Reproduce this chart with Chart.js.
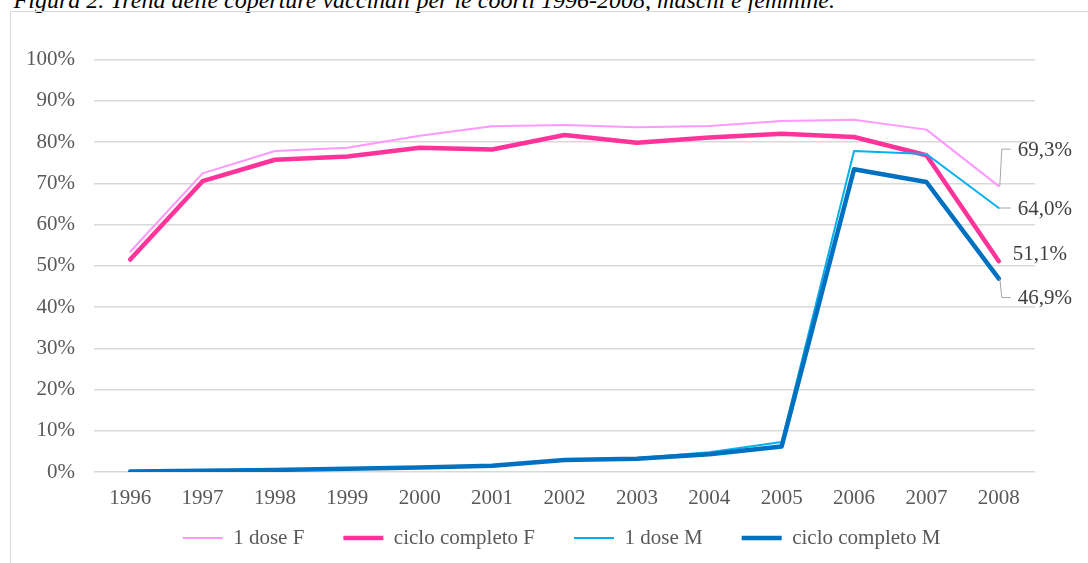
<!DOCTYPE html>
<html>
<head>
<meta charset="utf-8">
<script src="https://cdn.jsdelivr.net/npm/chart.js@4/dist/chart.umd.min.js"></script>
<style>
  html, body { margin: 0; padding: 0; background: #ffffff; overflow: hidden; }
  #wrap { position: relative; width: 1088px; height: 563px; overflow: hidden; }
  #title { position: absolute; right: 253px; top: -12px; white-space: nowrap;
           font-family: "Liberation Serif", serif; font-style: italic; font-size: 24px;
           line-height: 24px; color: #000; }
  #frame { position: absolute; left: 10px; top: 11px; width: 1200px; height: 700px;
           border: 1px solid #d9d9d9; box-sizing: border-box; }
  #c { position: absolute; left: 0; top: 0; }
</style>
</head>
<body>
<div id="wrap">
  <div id="title">Figura 2. Trend delle coperture vaccinali per le coorti 1996-2008, maschi e femmine.</div>
  <div id="frame"></div>
  <canvas id="c" width="1088" height="563"></canvas>
</div>
<script>
const categories = ['1996','1997','1998','1999','2000','2001','2002','2003','2004','2005','2006','2007','2008'];
const seriesNames = ['1 dose F', 'ciclo completo F', '1 dose M', 'ciclo completo M'];
const doseF   = [53.4, 72.4, 77.8, 78.6, 81.5, 83.8, 84.1, 83.6, 83.9, 85.1, 85.4, 83.0, 69.3];
const cicloF  = [51.5, 70.5, 75.7, 76.5, 78.6, 78.2, 81.7, 79.8, 81.1, 82.0, 81.2, 76.8, 51.1];
const doseM   = [0.2, 0.4, 0.5, 0.8, 1.2, 1.6, 3.0, 3.4, 4.8, 7.3, 77.8, 77.1, 64.0];
const cicloM  = [0.1, 0.3, 0.5, 0.8, 1.1, 1.5, 2.9, 3.2, 4.3, 6.2, 73.4, 70.3, 46.9];
const yTicks  = [0, 10, 20, 30, 40, 50, 60, 70, 80, 90, 100];
const endLabels = ['69,3%', '51,1%', '64,0%', '46,9%'];

const FONT = '"Liberation Serif", "Times New Roman", serif';
const TEXT = '#595959';

const endLabelPlugin = {
  id: 'endLabels',
  afterDatasetsDraw(chart) {
    const ctx = chart.ctx;
    const cfg = [
      {ds: 0, dx: 19, dy: -37, leader: 'up'},
      {ds: 1, dx: 14, dy: -8, leader: 'none'},
      {ds: 2, dx: 19, dy: 0, leader: 'flat'},
      {ds: 3, dx: 19, dy: 19, leader: 'down'}
    ];
    ctx.save();
    cfg.forEach((c, i) => {
      const meta = chart.getDatasetMeta(c.ds);
      const pt = meta.data[meta.data.length - 1];
      const x = pt.x, y = pt.y;
      const ty = y + c.dy;
      ctx.strokeStyle = '#a6a6a6';
      ctx.lineWidth = 1;
      ctx.beginPath();
      if (c.leader === 'up' || c.leader === 'down') {
        ctx.moveTo(x + 1, y);
        ctx.lineTo(x + 3, ty);
        ctx.lineTo(x + 12, ty);
        ctx.stroke();
      } else if (c.leader === 'flat') {
        ctx.moveTo(x + 1, y);
        ctx.lineTo(x + 12, ty);
        ctx.stroke();
      }
      ctx.fillStyle = '#404040';
      ctx.font = '21px ' + FONT;
      ctx.textAlign = 'left';
      ctx.textBaseline = 'middle';
      ctx.fillText(endLabels[i], x + c.dx, ty + 1);
    });
    ctx.restore();
  }
};

// place the legend row: vertical centre near the bottom, shifted to the right
const legendPlace = {
  id: 'legendPlace',
  afterLayout(chart) {
    const lg = chart.legend;
    if (!lg) return;
    lg.top = 488.5; lg.bottom = 563;
    lg.left += 44; lg.right += 44;
  }
};

new Chart(document.getElementById('c'), {
  type: 'line',
  data: {
    labels: categories,
    datasets: [
      {label: seriesNames[0], data: doseF,  borderColor: '#ff99ff', backgroundColor: '#ff99ff', borderWidth: 2,   order: 4},
      {label: seriesNames[1], data: cicloF, borderColor: '#ff3399', backgroundColor: '#ff3399', borderWidth: 4.5, order: 3},
      {label: seriesNames[2], data: doseM,  borderColor: '#00b0f0', backgroundColor: '#00b0f0', borderWidth: 2,   order: 2},
      {label: seriesNames[3], data: cicloM, borderColor: '#0070c0', backgroundColor: '#0070c0', borderWidth: 4.5, order: 1}
    ]
  },
  options: {
    responsive: false,
    animation: false,
    devicePixelRatio: 1,
    layout: { padding: { left: 0, right: 53, top: 59.5, bottom: 11 } },
    elements: {
      point: { radius: 0, hoverRadius: 0 },
      line: { tension: 0, borderCapStyle: 'round', borderJoinStyle: 'round' }
    },
    plugins: {
      title: { display: false },
      tooltip: { enabled: false },
      legend: {
        position: 'bottom',
        maxHeight: 40,
        labels: {
          usePointStyle: true,
          pointStyle: 'line',
          pointStyleWidth: 40,
          padding: 39,
          color: TEXT,
          font: { family: FONT, size: 21 },
          sort: (a, b) => a.datasetIndex - b.datasetIndex
        }
      }
    },
    scales: {
      x: {
        offset: true,
        grid: { display: false, drawTicks: false, offset: true },
        border: { display: false },
        ticks: { color: TEXT, font: { family: FONT, size: 21 }, padding: 14, maxRotation: 0 },
        afterFit(scale) { scale.height = 40; }
      },
      y: {
        min: 0, max: 100,
        afterBuildTicks(scale) { scale.ticks = yTicks.map(v => ({value: v})); },
        grid: { color: '#d9d9d9', lineWidth: 1.5, drawTicks: false },
        border: { display: false },
        ticks: { color: TEXT, font: { family: FONT, size: 21 }, padding: 19, callback: v => v + '%' },
        afterFit(scale) { scale.width = 94; }
      }
    }
  },
  plugins: [endLabelPlugin, legendPlace]
});
</script>
</body>
</html>
